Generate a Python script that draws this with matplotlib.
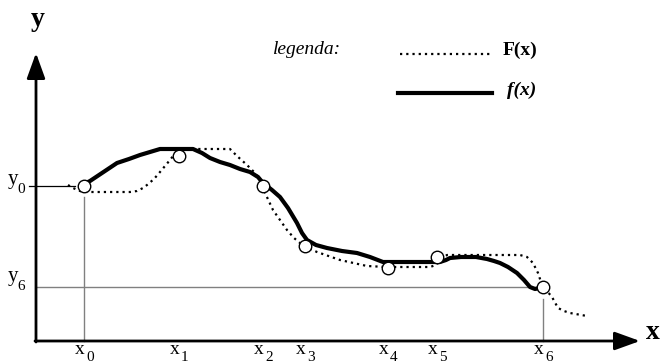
import numpy as np
import matplotlib
matplotlib.use('Agg')
import matplotlib.pyplot as plt

plt.rcParams['font.family'] = ['Liberation Serif', 'DejaVu Serif']

# вузлові точки x0..x6 та значення y у них
knot_x = [48, 143, 227, 269, 352, 401, 507]
knot_y = [155, 185, 155, 95, 73, 84, 54]
knot_labels = ['0', '1', '2', '3', '4', '5', '6']

# крива f(x) (суцільна)
f_x = [48, 54, 66, 81, 93, 104, 114, 124, 140, 157, 166, 174, 184, 194, 204, 214,
       222, 227, 236, 244, 252, 261, 266, 271, 280, 291, 306, 321, 334, 347, 365,
       384, 404, 410, 414, 425, 440, 451, 458, 464, 472, 481, 488, 494, 499, 504]
f_y = [157, 160, 168, 178, 182, 186, 189, 192, 192, 192, 188, 183, 179, 176, 172, 169,
       164, 158, 151, 144, 133, 118, 108, 101, 96, 93, 90, 88, 84, 79, 79,
       79, 79, 81, 83, 84, 84, 82, 80, 78, 74, 68, 61, 54, 52, 53]

# крива F(x) (пунктирна)
F_x = [32, 37, 44, 51, 94, 101, 107, 111, 118, 124, 134, 141, 147, 194, 201, 211,
       218, 224, 230, 237, 251, 258, 264, 272, 281, 304, 331, 351, 394, 400, 404,
       408, 411, 484, 491, 497, 502, 506, 511, 516, 522, 528, 534, 551]
F_y = [156, 153, 150, 149, 149, 150, 153, 156, 162, 169, 181, 190, 192, 192, 185, 176,
       169, 161, 146, 131, 111, 103, 98, 93, 89, 81, 75, 74, 74, 76, 81,
       84, 86, 86, 84, 78, 68, 56, 50, 44, 33, 30, 28, 25]

fig = plt.figure(figsize=(6.62, 3.63), dpi=100)
ax = fig.add_axes([0, 0, 1, 1])
ax.set_xlim(-36, 626)
ax.set_ylim(-22, 341)
ax.axis('off')

dots = (0, (1, 1.8))

# осі зі стрілками
arrow = dict(arrowstyle='-|>,head_length=1.55,head_width=0.56', lw=2, color='black',
             shrinkA=0, shrinkB=0)
ax.annotate('', xy=(0, 288), xytext=(0, -1), arrowprops=arrow)
ax.annotate('', xy=(604, 0), xytext=(-1, 0), arrowprops=arrow)
ax.text(2, 315, 'y', fontsize=20, fontweight='bold', ha='center', va='baseline')
ax.text(617, 2, 'x', fontsize=20, fontweight='bold', ha='center', va='baseline')

# допоміжні лінії
ax.plot([-7, 39], [knot_y[0], knot_y[0]], color='black', lw=0.9)
ax.plot([knot_x[0], knot_x[0]], [0, knot_y[0] - 11], color='#808080', lw=1)
ax.plot([0, knot_x[6]], [knot_y[6], knot_y[6]], color='#808080', lw=1)
ax.plot([knot_x[6], knot_x[6]], [0, knot_y[6] - 12], color='#808080', lw=1)

# криві
ax.plot(F_x, F_y, color='black', lw=1.6, linestyle=dots)
ax.plot(f_x, f_y, color='black', lw=3, solid_joinstyle='round', solid_capstyle='round')
ax.plot(knot_x, knot_y, 'o', ms=9, mfc='white', mec='black', mew=1, zorder=5)

# підписи на осях
for xi, lab in zip(knot_x, knot_labels):
    ax.text(xi - 4, -13, 'x', fontsize=14, ha='center', va='baseline')
    ax.text(xi + 2, -20, lab, fontsize=11, ha='left', va='baseline')
ax.text(-23, knot_y[0] + 2, 'y', fontsize=15, ha='center', va='baseline')
ax.text(-19, knot_y[0] - 7, '0', fontsize=11, ha='left', va='baseline')
ax.text(-23, knot_y[6] + 6, 'y', fontsize=15, ha='center', va='baseline')
ax.text(-19, knot_y[6] - 3, '6', fontsize=11, ha='left', va='baseline')

# легенда
ax.text(237, 291, 'legenda:', fontsize=14, style='italic', ha='left', va='center')
ax.plot([364, 454], [287, 287], color='black', lw=1.6, linestyle=dots)
ax.text(467, 291, 'F(x)', fontsize=14, fontweight='bold', ha='left', va='center')
ax.plot([362, 456], [248, 248], color='black', lw=3)
ax.text(471, 251, 'f(x)', fontsize=14, fontweight='bold', style='italic', ha='left', va='center')

fig.savefig('out.png', dpi=100)
